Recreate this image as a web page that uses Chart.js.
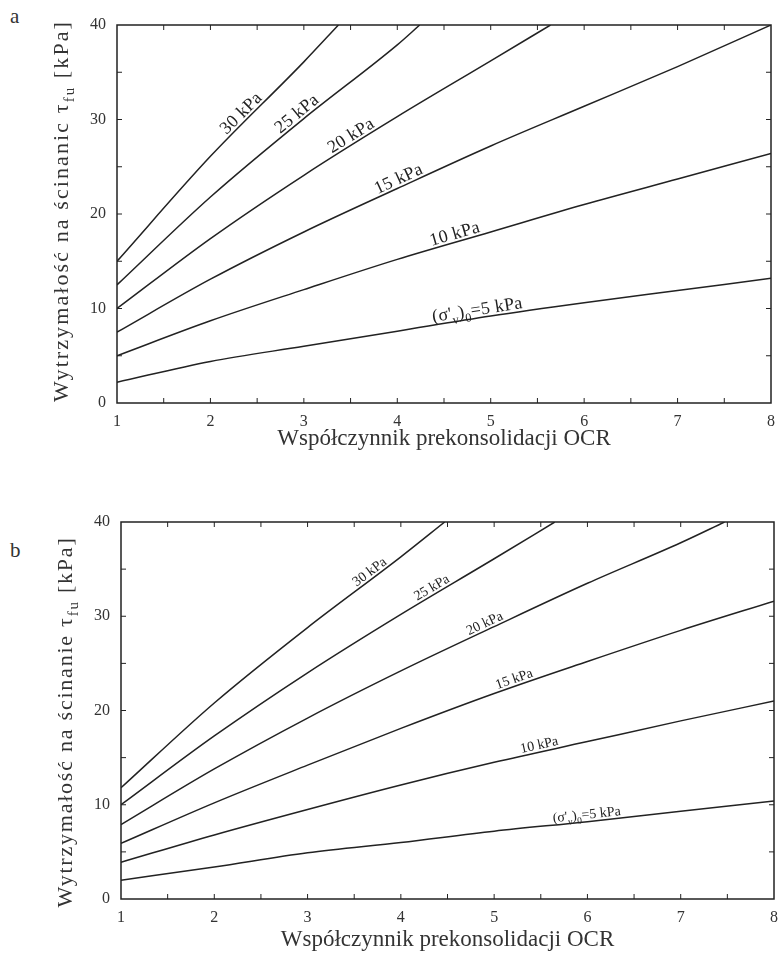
<!DOCTYPE html>
<html>
<head>
<meta charset="utf-8">
<script src="https://cdn.jsdelivr.net/npm/chart.js@4.4.1/dist/chart.umd.min.js"></script>
<style>
  html, body { margin: 0; padding: 0; background: #fff; overflow: hidden; }
  .panel { position: absolute; left: 0; width: 778px; }
  #wrapA { top: 0; height: 455px; }
  #wrapB { top: 455px; height: 499px; }
  .letter { position: absolute; left: 10px; font-family: "Liberation Serif", serif; font-size: 21px; color: #333; }
</style>
</head>
<body>
<div class="letter" style="top:4px">a</div>
<div class="letter" style="top:538px">b</div>
<div class="panel" id="wrapA"><canvas id="chartA"></canvas></div>
<div class="panel" id="wrapB"><canvas id="chartB"></canvas></div>
<script>
// OCR (x) i wytrzymałość tau_fu (y) odczytane z rysunku
// panel a
const ocrA5 = [1, 2, 3, 4, 5, 6, 7, 8];
const tauA5 = [2.2, 4.4, 6.0, 7.6, 9.2, 10.6, 11.9, 13.2];
const ocrA10 = [1, 2, 3, 4, 5, 6, 7, 8];
const tauA10 = [5.0, 8.7, 12.0, 15.2, 18.1, 21.0, 23.7, 26.4];
const ocrA15 = [1, 2, 3, 4, 5, 6, 7, 8];
const tauA15 = [7.5, 13.1, 18.1, 22.7, 27.2, 31.4, 35.6, 40.0];
const ocrA20 = [1, 2, 3, 4, 5, 5.64];
const tauA20 = [10.0, 17.4, 24.1, 30.3, 36.2, 40.0];
const ocrA25 = [1, 2, 3, 4, 4.24];
const tauA25 = [12.5, 21.8, 30.1, 37.9, 40.0];
const ocrA30 = [1, 2, 3, 3.37];
const tauA30 = [15.0, 26.1, 36.1, 40.0];

// panel b
const ocrB5 = [1, 2, 3, 4, 5, 6, 7, 8];
const tauB5 = [2.0, 3.4, 4.9, 6.0, 7.2, 8.2, 9.3, 10.4];
const ocrB10 = [1, 2, 3, 4, 5, 6, 7, 8];
const tauB10 = [3.9, 6.8, 9.5, 12.1, 14.5, 16.7, 18.9, 21.0];
const ocrB15 = [1, 2, 3, 4, 5, 6, 7, 8];
const tauB15 = [5.9, 10.2, 14.2, 18.1, 21.8, 25.2, 28.5, 31.6];
const ocrB20 = [1, 2, 3, 4, 5, 6, 7, 7.47];
const tauB20 = [7.9, 13.8, 19.2, 24.2, 28.9, 33.5, 37.8, 40.0];
const ocrB25 = [1, 2, 3, 4, 5, 5.65];
const tauB25 = [10.0, 17.3, 24.0, 30.2, 36.1, 40.0];
const ocrB30 = [1, 2, 3, 4, 4.47];
const tauB30 = [11.8, 20.8, 28.8, 36.3, 40.0];

// opisy krzywych
const curveNames = ['5 kPa', '10 kPa', '15 kPa', '20 kPa', '25 kPa', '30 kPa'];
const xTicks = [1, 2, 3, 4, 5, 6, 7, 8];
const yTicks = [0, 10, 20, 30, 40];

const SERIF = '"Liberation Serif", "Times New Roman", serif';
const INK = '#222';

function pts(xs, ys) {
  return xs.map((x, i) => ({ x: x, y: ys[i] }));
}

// tekst z indeksami dolnymi, wycentrowany w (0,0), linia bazowa na 0
function drawRich(ctx, parts, size, spacing) {
  ctx.letterSpacing = (spacing || 0) + 'px';
  let w = 0;
  parts.forEach(p => {
    ctx.font = (p.sub ? size * 0.68 : size) + 'px ' + SERIF;
    p.w = ctx.measureText(p.t).width;
    w += p.w;
  });
  let x = -w / 2;
  parts.forEach(p => {
    ctx.font = (p.sub ? size * 0.68 : size) + 'px ' + SERIF;
    ctx.fillText(p.t, x, p.sub ? size * 0.28 : 0);
    x += p.w;
  });
  ctx.letterSpacing = '0px';
  return w;
}

function richWidth(ctx, parts, size) {
  let w = 0, n = 0;
  parts.forEach(p => {
    ctx.font = (p.sub ? size * 0.68 : size) + 'px ' + SERIF;
    w += ctx.measureText(p.t).width;
    n += p.t.length;
  });
  return { w: w, n: n };
}

const decorPlugin = {
  id: 'decor',
  afterDraw(chart, args, opts) {
    const ctx = chart.ctx;
    const a = chart.chartArea;
    const xs = chart.scales.x, ys = chart.scales.y;
    ctx.save();
    ctx.strokeStyle = INK;
    ctx.fillStyle = INK;
    // ramka
    ctx.lineWidth = 1.5;
    ctx.strokeRect(a.left, a.top, a.right - a.left, a.bottom - a.top);
    // kreski podziałki do środka
    ctx.lineWidth = 1;
    ctx.beginPath();
    for (let v = 1.5; v < 8; v += 0.5) {
      const px = xs.getPixelForValue(v);
      ctx.moveTo(px, a.bottom); ctx.lineTo(px, a.bottom - 5);
      ctx.moveTo(px, a.top); ctx.lineTo(px, a.top + 5);
    }
    for (let v = 5; v < 40; v += 5) {
      const py = ys.getPixelForValue(v);
      ctx.moveTo(a.left, py); ctx.lineTo(a.left + 5, py);
      ctx.moveTo(a.right, py); ctx.lineTo(a.right - 5, py);
    }
    ctx.stroke();

    // opisy krzywych wzdłuż linii
    ctx.textAlign = 'left';
    ctx.textBaseline = 'alphabetic';
    chart.data.datasets.forEach((ds, i) => {
      const line = chart.getDatasetMeta(i).dataset;
      const px = xs.getPixelForValue(opts.labelAt[i]);
      const p1 = line.interpolate({ x: px - 4 }, 'x');
      const p2 = line.interpolate({ x: px + 4 }, 'x');
      const p0 = line.interpolate({ x: px }, 'x');
      if (!p0 || !p1 || !p2) return;
      const ang = Math.atan2(p2.y - p1.y, p2.x - p1.x);
      ctx.save();
      ctx.translate(p0.x, p0.y);
      ctx.rotate(ang);
      ctx.translate(0, -opts.labelGap);
      const parts = i === 0
        ? [{ t: '(σ\'' }, { t: 'v', sub: true }, { t: ')' }, { t: '0', sub: true }, { t: '=5 kPa' }]
        : [{ t: curveNames[i] }];
      drawRich(ctx, parts, opts.labelSize, opts.labelSpacing);
      ctx.restore();
    });

    // tytuł osi Y z indeksem dolnym
    const tparts = [{ t: 'Wytrzymałość na ' + opts.yWord + ' τ' }, { t: 'fu', sub: true }, { t: ' [kPa]' }];
    const m = richWidth(ctx, tparts, opts.yTitleSize);
    const sp = Math.max(0, (opts.yTitleLen - m.w) / m.n);
    ctx.save();
    ctx.translate(opts.yTitleX, opts.yTitleY);
    ctx.rotate(-Math.PI / 2);
    ctx.fillStyle = '#333';
    drawRich(ctx, tparts, opts.yTitleSize, sp);
    ctx.restore();
    ctx.restore();
  }
};

function makeChart(id, series, cfg) {
  const datasets = series.map(s => ({
    data: pts(s[0], s[1]),
    borderColor: INK,
    borderWidth: 1.5,
    pointRadius: 0,
    fill: false,
    cubicInterpolationMode: 'monotone'
  }));
  return new Chart(document.getElementById(id), {
    type: 'line',
    data: { datasets: datasets },
    options: {
      responsive: true,
      maintainAspectRatio: false,
      animation: false,
      layout: { padding: { top: cfg.padTop, right: cfg.padRight, left: 0, bottom: 0 } },
      plugins: {
        legend: { display: false },
        tooltip: { enabled: false },
        decor: cfg.decor
      },
      scales: {
        x: {
          type: 'linear',
          min: 1, max: 8,
          afterBuildTicks: s => { s.ticks = xTicks.map(v => ({ value: v })); },
          afterFit: s => { s.height = cfg.xHeight; s.paddingLeft = 0; s.paddingRight = 0; },
          grid: { display: false },
          border: { display: false },
          ticks: { color: '#333', font: { family: SERIF, size: 16 }, padding: 1, maxRotation: 0 },
          title: {
            display: true,
            text: 'Współczynnik prekonsolidacji OCR',
            color: '#333',
            font: { family: SERIF, size: 23 },
            padding: { top: 0, bottom: cfg.xTitlePad }
          }
        },
        y: {
          type: 'linear',
          min: 0, max: 40,
          afterBuildTicks: s => { s.ticks = yTicks.map(v => ({ value: v })); },
          afterFit: s => { s.width = cfg.yWidth; s.paddingTop = 0; s.paddingBottom = 0; },
          grid: { display: false },
          border: { display: false },
          ticks: { color: '#333', font: { family: SERIF, size: 16 }, padding: 3 }
        }
      }
    },
    plugins: [decorPlugin]
  });
}

makeChart('chartA',
  [[ocrA5, tauA5], [ocrA10, tauA10], [ocrA15, tauA15], [ocrA20, tauA20], [ocrA25, tauA25], [ocrA30, tauA30]],
  {
    padTop: 25, padRight: 7, xHeight: 52, yWidth: 117, xTitlePad: 2,
    decor: { labelAt: [4.87, 4.64, 4.05, 3.55, 2.98, 2.39], labelGap: 3, labelSize: 18, labelSpacing: 0.3,
             yTitleX: 68, yTitleY: 211, yTitleLen: 382, yTitleSize: 22, yWord: 'ścinanic' }
  });

makeChart('chartB',
  [[ocrB5, tauB5], [ocrB10, tauB10], [ocrB15, tauB15], [ocrB20, tauB20], [ocrB25, tauB25], [ocrB30, tauB30]],
  {
    padTop: 67, padRight: 4, xHeight: 55, yWidth: 121, xTitlePad: 0,
    decor: { labelAt: [6.0, 5.5, 5.24, 4.93, 4.37, 3.71], labelGap: 3, labelSize: 14, labelSpacing: 0,
             yTitleX: 72, yTitleY: 267, yTitleLen: 371, yTitleSize: 22, yWord: 'ścinanie' }
  });
</script>
</body>
</html>
